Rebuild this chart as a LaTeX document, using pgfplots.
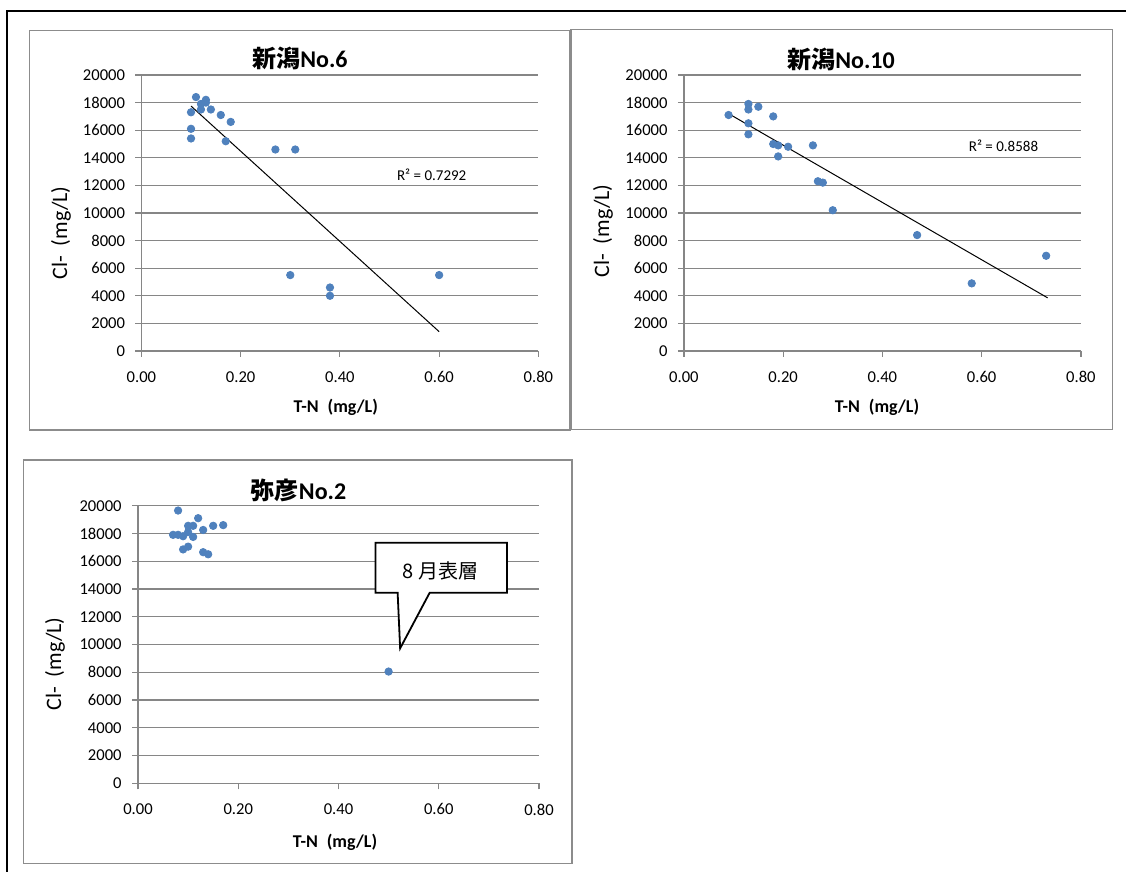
\documentclass[border=0pt]{standalone}
\usepackage{pgfplots}
\pgfplotsset{compat=1.18}
\usepackage{fontspec}
\setmainfont{Carlito}
\newfontfamily\cjk{Noto Sans CJK JP}
\definecolor{gridgray}{HTML}{868686}
\definecolor{ptblue}{HTML}{4F81BD}
\definecolor{framegray}{HTML}{8C8C8C}
\pgfplotsset{panel/.style={
  scale only axis, width=198.5pt, height=138pt,
  xmin=0, xmax=0.8, ymin=0, ymax=20000,
  xtick={0,0.2,0.4,0.6,0.8},
  xticklabels={0.00,0.20,0.40,0.60,0.80},
  ytick={0,2000,4000,6000,8000,10000,12000,14000,16000,18000,20000},
  yticklabels={0,2000,4000,6000,8000,10000,12000,14000,16000,18000,20000},
  axis x line*=bottom, axis y line*=left,
  axis line style={gridgray, line width=0.6pt},
  ymajorgrids, grid style={gridgray, line width=0.6pt},
  tick style={gridgray, line width=0.6pt},
  tick align=outside, major tick length=3pt,
  /pgf/number format/assume math mode=true,
  tick label style={font=\fontsize{8.3}{10}\selectfont, inner sep=0pt},
  xticklabel style={anchor=north, yshift=-7pt},
  yticklabel style={anchor=east, xshift=-5pt},
  scaled y ticks=false,
}}
\newcommand{\ylab}{Cl-\hspace{0.45em}(mg/L)}
\newcommand{\xlab}{T-N\hspace{0.5em}(mg/L)}
\begin{document}
\begin{tikzpicture}
\useasboundingbox (0,0) rectangle (563pt,436pt);
% outer frame
\draw[black, line width=1pt] (3.5pt,0pt) -- (3.5pt,430.5pt) -- (563pt,430.5pt);
% panel frames
\draw[framegray, line width=0.6pt, fill=white] (14.8pt,221pt) rectangle (285pt,420.65pt);
\draw[framegray, line width=0.6pt, fill=white] (285.5pt,221.25pt) rectangle (556.25pt,421.25pt);
\draw[framegray, line width=0.6pt, fill=white] (11.8pt,4.35pt) rectangle (286pt,206pt);

% ---------- panel 1
\begin{axis}[panel, at={(70.7pt,260.5pt)}, anchor=south west]
\addplot[only marks, mark=*, mark size=1.85pt, color=ptblue] coordinates {
(0.11,18400) (0.13,18200) (0.13,18000) (0.12,17900) (0.12,17500) (0.14,17500)
(0.10,17300) (0.16,17100) (0.18,16600) (0.10,16100) (0.10,15400) (0.17,15200)
(0.27,14600) (0.31,14600) (0.30,5500) (0.38,4600) (0.38,4000) (0.60,5500)};
\addplot[black, line width=0.5pt] coordinates {(0.10,17750) (0.60,1400)};
\node[font=\fontsize{7.5}{9}\selectfont] at (axis cs:0.585,12800) {R² = 0.7292};
\end{axis}
\node[font=\fontsize{12}{14}\selectfont\bfseries] at (150pt,407pt) {{\cjk 新潟}No.6};
\node[rotate=90, font=\fontsize{11}{13}\selectfont] at (30.5pt,319.5pt) {\ylab};
\node[font=\fontsize{9}{11}\selectfont\bfseries] at (167.9pt,232.5pt) {\xlab};

% ---------- panel 2
\begin{axis}[panel, at={(341.95pt,260.5pt)}, anchor=south west]
\addplot[only marks, mark=*, mark size=1.85pt, color=ptblue] coordinates {
(0.09,17100) (0.13,17900) (0.13,17500) (0.15,17700) (0.18,17000) (0.13,16500)
(0.13,15700) (0.18,15000) (0.19,14900) (0.21,14800) (0.19,14100) (0.26,14900)
(0.27,12300) (0.28,12200) (0.30,10200) (0.47,8400) (0.58,4900) (0.73,6900)};
\addplot[black, line width=0.5pt] coordinates {(0.09,17200) (0.733,3850)};
\node[font=\fontsize{7.5}{9}\selectfont] at (axis cs:0.644,14900) {R² = 0.8588};
\end{axis}
\node[font=\fontsize{12}{14}\selectfont\bfseries] at (420.5pt,406.5pt) {{\cjk 新潟}No.10};
\node[rotate=90, font=\fontsize{11}{13}\selectfont] at (301.5pt,320.5pt) {\ylab};
\node[font=\fontsize{9}{11}\selectfont\bfseries] at (438.5pt,232.5pt) {\xlab};

% ---------- panel 3
\begin{axis}[panel, width=200.5pt, height=138.8pt, at={(69pt,44.35pt)}, anchor=south west]
\addplot[only marks, mark=*, mark size=1.85pt, color=ptblue] coordinates {
(0.08,19650) (0.12,19100) (0.10,18550) (0.11,18550) (0.15,18550) (0.17,18600)
(0.13,18250) (0.07,17900) (0.08,17900) (0.09,17800) (0.10,18100) (0.11,17750)
(0.09,16850) (0.10,17050) (0.13,16650) (0.14,16500) (0.50,8050)};
\draw[black, line width=0.9pt, fill=white]
  (axis cs:0.474,17335) -- (axis cs:0.736,17335) -- (axis cs:0.736,13734)
  -- (axis cs:0.582,13734) -- (axis cs:0.523,9724) -- (axis cs:0.518,13734)
  -- (axis cs:0.474,13734) -- cycle;
\node[font=\fontsize{10}{12}\selectfont\cjk] at (axis cs:0.603,15294) {8 月表層};
\end{axis}
\node[font=\fontsize{12}{14}\selectfont\bfseries] at (149.3pt,191pt) {{\cjk 弥彦}No.2};
\node[rotate=90, font=\fontsize{11}{13}\selectfont] at (27.5pt,104pt) {\ylab};
\node[font=\fontsize{9}{11}\selectfont\bfseries] at (167.5pt,15pt) {\xlab};
\end{tikzpicture}
\end{document}
